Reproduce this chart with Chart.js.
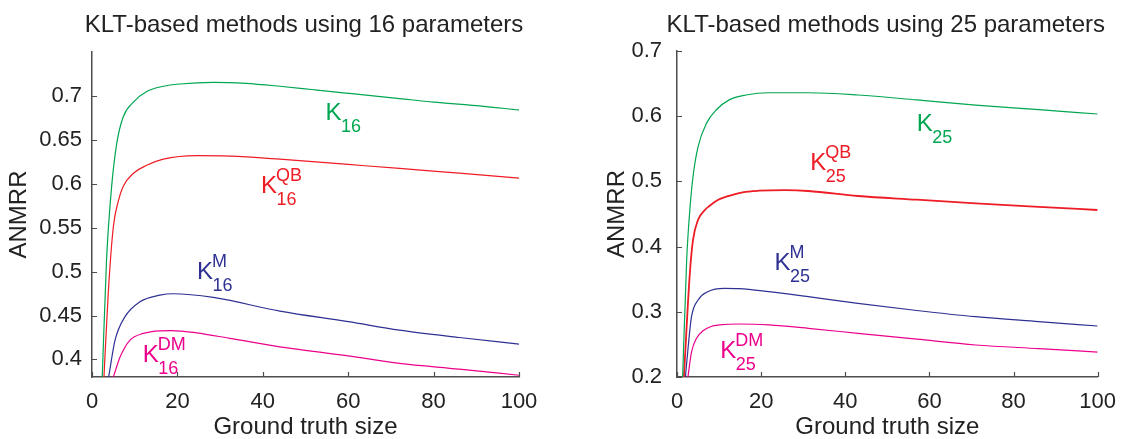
<!DOCTYPE html>
<html>
<head>
<meta charset="utf-8">
<script src="https://cdn.jsdelivr.net/npm/chart.js@4.4.0/dist/chart.umd.min.js"></script>
<style>
  html, body { margin: 0; background: #fff; }
  #wrap { position: relative; width: 1128px; height: 439px; }
  .panel { position: absolute; top: 0; width: 564px; height: 439px; }
  #left { left: 0; }
  #right { left: 564px; }
</style>
</head>
<body>
<div id="wrap">
  <div class="panel" id="left"><canvas id="chart16" width="564" height="439"></canvas></div>
  <div class="panel" id="right"><canvas id="chart25" width="564" height="439"></canvas></div>
</div>
<script>
const sizeTicks = [0, 20, 40, 60, 80, 100];
const anmrrTicks16 = [0.4, 0.45, 0.5, 0.55, 0.6, 0.65, 0.7];
const anmrrTicks25 = [0.2, 0.3, 0.4, 0.5, 0.6, 0.7];

// 16 parameters: ground truth size -> ANMRR
const sizeK16 = [2.4, 3.4, 4.6, 5.8, 7.3, 9.7, 12.8, 16.7, 20.6, 28.4, 36, 44, 52, 60, 72, 80, 90, 100];
const anmrrK16 = [0.380, 0.513, 0.597, 0.646, 0.676, 0.693, 0.705, 0.711, 0.7136, 0.7155, 0.7143, 0.711, 0.707, 0.703, 0.697, 0.693, 0.689, 0.684];
const sizeK16QB = [2.8, 3.8, 5.0, 6.2, 7.3, 9.7, 12.8, 16.7, 24.5, 32.3, 44, 60, 72, 86, 100];
const anmrrK16QB = [0.380, 0.475, 0.551, 0.581, 0.597, 0.612, 0.621, 0.628, 0.632, 0.6315, 0.628, 0.622, 0.6175, 0.612, 0.6065];
const sizeK16M = [3.9, 5.4, 7.7, 11.2, 15.9, 19, 28.4, 44, 60, 72, 86, 100];
const anmrrK16M = [0.380, 0.422, 0.4485, 0.4656, 0.4732, 0.4748, 0.4706, 0.455, 0.443, 0.4334, 0.425, 0.4174];
const sizeK16DM = [5.0, 6.6, 8.9, 12.0, 15.9, 18.5, 24.5, 32.3, 44, 60, 72, 86, 100];
const anmrrK16DM = [0.380, 0.403, 0.422, 0.4296, 0.4326, 0.4328, 0.4303, 0.424, 0.4144, 0.404, 0.3955, 0.389, 0.382];

// 25 parameters
const sizeK25 = [1.34, 2.3, 3.05, 3.8, 5.0, 7.0, 9.3, 12.4, 16.4, 21.8, 31.2, 43, 57, 71, 86, 100];
const anmrrK25 = [0.200, 0.3795, 0.456, 0.507, 0.553, 0.589, 0.6095, 0.625, 0.6325, 0.636, 0.636, 0.6325, 0.625, 0.617, 0.610, 0.6034];
const sizeK25QB = [1.64, 3.05, 3.8, 5.0, 6.6, 7.7, 9.7, 11.7, 15.6, 19.5, 25.7, 31.2, 43, 57, 71, 86, 100];
const anmrrK25QB = [0.200, 0.359, 0.410, 0.441, 0.456, 0.4623, 0.4715, 0.4765, 0.4833, 0.4857, 0.4865, 0.4853, 0.4776, 0.472, 0.4664, 0.461, 0.4561];
const sizeK25M = [2.0, 2.66, 3.45, 5.0, 7.3, 11.3, 14.8, 21.8, 31.2, 43, 57, 71, 86, 100];
const anmrrK25M = [0.200, 0.2465, 0.2925, 0.318, 0.3308, 0.336, 0.3355, 0.3308, 0.3232, 0.313, 0.302, 0.2925, 0.285, 0.2782];
const sizeK25DM = [2.6, 3.45, 4.6, 6.2, 8.1, 10.1, 14.8, 21.8, 31.2, 43, 57, 71, 86, 100];
const anmrrK25DM = [0.200, 0.238, 0.259, 0.271, 0.2775, 0.2798, 0.2813, 0.2798, 0.2747, 0.267, 0.258, 0.2491, 0.2435, 0.2383];

const family = '"Liberation Sans", Arial, Helvetica, sans-serif';
const textColor = '#222222';
const axisColor = '#4d4d4d';
const green = '#00a651';
const red = '#ee1c24';
const blue = '#2e3192';
const pink = '#ec008c';

Chart.defaults.font.family = family;

function pts(xs, ys) {
    return xs.map((x, i) => ({ x: x, y: ys[i] }));
}

function line(data, color, width) {
    return {
        data: data,
        borderColor: color,
        borderWidth: width || 1.2,
        pointRadius: 0,
        fill: false,
        cubicInterpolationMode: 'monotone'
    };
}

// title centred over the plot area
function titlePlugin(text) {
    return {
        id: 'panelTitle',
        afterDraw(chart) {
            const { ctx, chartArea } = chart;
            ctx.save();
            ctx.font = '24px ' + family;
            ctx.fillStyle = textColor;
            ctx.textAlign = 'center';
            ctx.textBaseline = 'alphabetic';
            ctx.fillText(text, (chartArea.left + chartArea.right) / 2 - 1.5, 32);
            ctx.restore();
        }
    };
}

// tick marks pointing into the plot
const innerTicks = {
    id: 'innerTicks',
    afterDraw(chart) {
        const { ctx, chartArea, scales } = chart;
        ctx.save();
        ctx.strokeStyle = axisColor;
        ctx.lineWidth = 1.2;
        ctx.beginPath();
        scales.x.ticks.forEach(t => {
            const px = Math.round(scales.x.getPixelForValue(t.value)) + 0.5;
            ctx.moveTo(px, chartArea.bottom);
            ctx.lineTo(px, chartArea.bottom - 5);
        });
        scales.y.ticks.forEach(t => {
            const py = Math.round(scales.y.getPixelForValue(t.value)) + 0.5;
            ctx.moveTo(chartArea.left, py);
            ctx.lineTo(chartArea.left + 5, py);
        });
        ctx.stroke();
        ctx.restore();
    }
};

// K labels with sub/superscripts, anchored in data units
function curveLabels(items) {
    return {
        id: 'curveLabels',
        afterDatasetsDraw(chart) {
            const { ctx, scales } = chart;
            ctx.save();
            ctx.textAlign = 'left';
            ctx.textBaseline = 'alphabetic';
            items.forEach(it => {
                const px = scales.x.getPixelForValue(it.x);
                const py = scales.y.getPixelForValue(it.y);
                ctx.fillStyle = it.color;
                ctx.font = '24px ' + family;
                ctx.fillText('K', px, py);
                ctx.font = '18px ' + family;
                ctx.fillText(it.sub, px + 15.5, py + 12);
                if (it.sup) ctx.fillText(it.sup, px + 15, py - 12);
            });
            ctx.restore();
        }
    };
}

function makeChart(id, opts) {
    const ctx = document.getElementById(id).getContext('2d');
    return new Chart(ctx, {
        type: 'line',
        data: { datasets: opts.datasets },
        options: {
            responsive: false,
            animation: false,
            devicePixelRatio: 1,
            layout: { padding: { left: opts.padLeft, right: opts.padRight, top: opts.padTop, bottom: 0 } },
            plugins: {
                legend: { display: false },
                tooltip: { enabled: false },
                title: { display: false }
            },
            scales: {
                x: {
                    type: 'linear',
                    min: 0,
                    max: 100,
                    afterBuildTicks: s => { s.ticks = sizeTicks.map(v => ({ value: v })); },
                    afterFit: s => { s.height = 62; },
                    grid: { drawOnChartArea: false, drawTicks: false },
                    border: { color: axisColor, width: 1.5 },
                    ticks: {
                        padding: 12,
                        color: textColor,
                        font: { size: 22 },
                        maxRotation: 0,
                        autoSkip: false,
                        callback: v => String(v)
                    },
                    title: {
                        display: true,
                        text: 'Ground truth size',
                        color: textColor,
                        font: { size: 24, lineHeight: 1 },
                        padding: 0
                    }
                },
                y: {
                    type: 'linear',
                    min: opts.yMin,
                    max: opts.yMax,
                    afterBuildTicks: s => { s.ticks = opts.yTicks.map(v => ({ value: v })); },
                    afterFit: s => { s.width = opts.yWidth; },
                    grid: { drawOnChartArea: false, drawTicks: false },
                    border: { color: axisColor, width: 1.5 },
                    ticks: {
                        padding: opts.yPad,
                        color: textColor,
                        font: { size: 22 },
                        autoSkip: false,
                        callback: v => String(+v.toFixed(2))
                    },
                    title: {
                        display: true,
                        text: 'ANMRR',
                        color: textColor,
                        font: { size: 24, lineHeight: 1 },
                        padding: { top: 7, bottom: 0 }
                    }
                }
            }
        },
        plugins: [titlePlugin(opts.title), innerTicks, curveLabels(opts.labels)]
    });
}

makeChart('chart16', {
    title: 'KLT-based methods using 16 parameters',
    datasets: [
        line(pts(sizeK16, anmrrK16), green),
        line(pts(sizeK16QB, anmrrK16QB), red),
        line(pts(sizeK16M, anmrrK16M), blue),
        line(pts(sizeK16DM, anmrrK16DM), pink)
    ],
    yMin: 0.38,
    yMax: 0.75,
    yTicks: anmrrTicks16,
    yWidth: 92,
    yPad: 10,
    padLeft: 0,
    padRight: 45,
    padTop: 52,
    labels: [
        { x: 54.7, y: 0.6726, sub: '16', color: green },
        { x: 39.6, y: 0.5894, sub: '16', sup: 'QB', color: red },
        { x: 24.6, y: 0.4915, sub: '16', sup: 'M', color: blue },
        { x: 11.9, y: 0.3969, sub: '16', sup: 'DM', color: pink }
    ]
});

makeChart('chart25', {
    title: 'KLT-based methods using 25 parameters',
    datasets: [
        line(pts(sizeK25, anmrrK25), green),
        line(pts(sizeK25QB, anmrrK25QB), red, 1.8),
        line(pts(sizeK25M, anmrrK25M), blue),
        line(pts(sizeK25DM, anmrrK25DM), pink)
    ],
    yMin: 0.2,
    yMax: 0.7,
    yTicks: anmrrTicks25,
    yWidth: 79,
    yPad: 15,
    padLeft: 34,
    padRight: 25,
    padTop: 51,
    labels: [
        { x: 57.0, y: 0.5773, sub: '25', color: green },
        { x: 31.7, y: 0.5175, sub: '25', sup: 'QB', color: red },
        { x: 23.2, y: 0.364, sub: '25', sup: 'M', color: blue },
        { x: 10.3, y: 0.229, sub: '25', sup: 'DM', color: pink }
    ]
});
</script>
</body>
</html>
